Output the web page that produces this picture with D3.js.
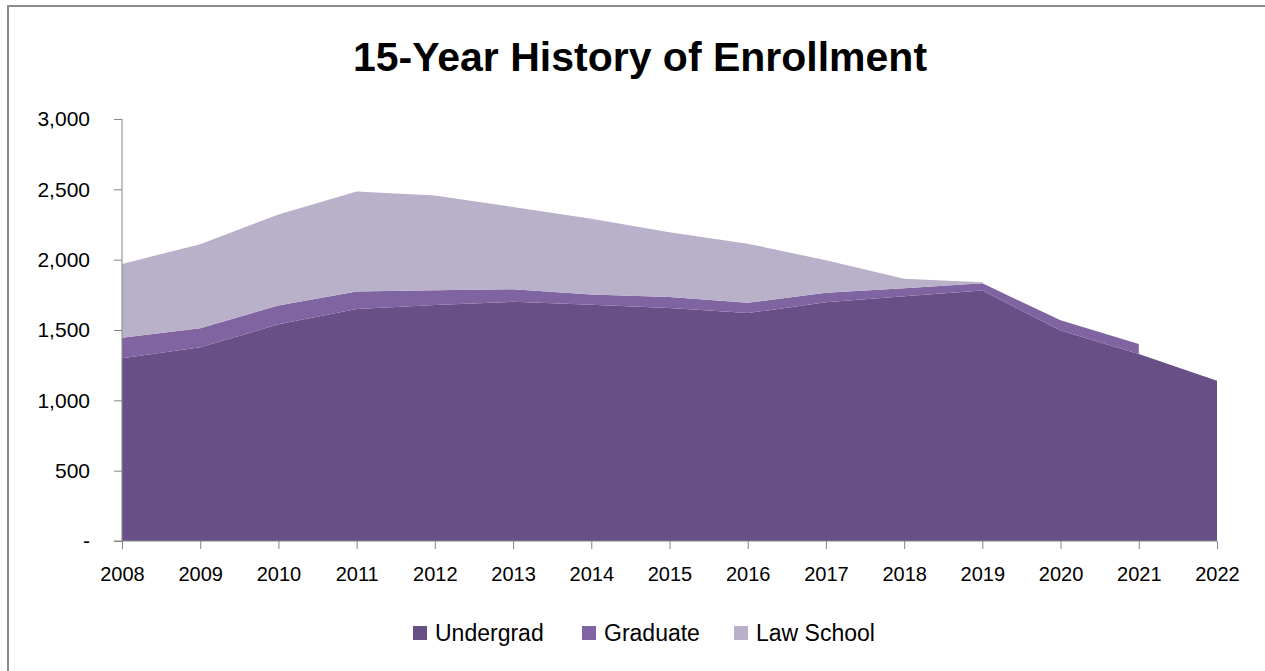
<!DOCTYPE html>
<html>
<head>
<meta charset="utf-8">
<script src="https://cdn.jsdelivr.net/npm/d3@7"></script>
<style>
  body { margin: 0; background: #fff; }
  svg { display: block; }
</style>
</head>
<body>
<div id="my_dataviz"></div>
<script>
var years = [2008, 2009, 2010, 2011, 2012, 2013, 2014, 2015, 2016, 2017, 2018, 2019, 2020, 2021, 2022];
var undergrad = [1300, 1378, 1540, 1650, 1678, 1700, 1680, 1657, 1620, 1697, 1740, 1780, 1496, 1330, 1140];
var graduate = [145, 135, 134, 123, 105, 90, 72, 78, 73, 67, 57, 52, 73, 71, null];
var lawSchool = [525, 597, 647, 711, 673, 585, 538, 460, 421, 232, 67, 8, null, null, null];
var seriesNames = ["Undergrad", "Graduate", "Law School"];
var yTicks = [0, 500, 1000, 1500, 2000, 2500, 3000];

var colors = { "Undergrad": "#685086", "Graduate": "#8064a2", "Law School": "#b9b0ca" };

var W = 1265, H = 671;
var margin = { top: 119, right: 48, bottom: 130, left: 122 },
    width = W - margin.left - margin.right,
    height = H - margin.top - margin.bottom;

var rows = years.map(function (y, i) {
    return { year: y, "Undergrad": undergrad[i], "Graduate": graduate[i], "Law School": lawSchool[i] };
});

var svg = d3.select("#my_dataviz")
    .append("svg")
    .attr("width", W)
    .attr("height", H)
    .style("font-family", "'Liberation Sans', Arial, sans-serif");

// chart frame
svg.append("rect")
    .attr("x", 8).attr("y", 6)
    .attr("width", W + 20).attr("height", H + 20)
    .attr("fill", "none")
    .attr("stroke", "#8c8c8c")
    .attr("stroke-width", 2);

svg.append("text")
    .attr("x", 640)
    .attr("y", 71)
    .attr("text-anchor", "middle")
    .attr("font-size", "41px")
    .attr("font-weight", "bold")
    .attr("fill", "#000")
    .text("15-Year History of Enrollment");

var g = svg.append("g")
    .attr("transform", "translate(" + margin.left + "," + margin.top + ")");

var x = d3.scaleLinear().domain([years[0], years[years.length - 1]]).range([0, width]);
var y = d3.scaleLinear().domain([0, 3000]).range([height, 0]);

var stack = d3.stack()
    .keys(seriesNames)
    .value(function (d, key) { return d[key] == null ? 0 : d[key]; });
var layers = stack(rows);

var area = d3.area()
    .x(function (d) { return x(d.data.year); })
    .y0(function (d) { return y(d[0]); })
    .y1(function (d) { return y(d[1]); });

g.selectAll(".layer")
    .data(layers)
    .enter()
    .append("path")
    .attr("class", "layer")
    .attr("fill", function (d) { return colors[d.key]; })
    .attr("d", function (d) {
        var key = d.key;
        return area.defined(function (p) { return p.data[key] != null; })(d);
    });

// y axis
var yAxis = g.append("g")
    .call(d3.axisLeft(y).tickValues(yTicks).tickSize(8).tickPadding(24)
        .tickFormat(function (v) { return v === 0 ? "-" : d3.format(",")(v); }));
yAxis.select(".domain").attr("stroke", "#868686").attr("d", "M0," + height + "V0");
yAxis.selectAll(".tick line").attr("stroke", "#868686");
yAxis.selectAll(".tick text").attr("font-size", "21px").attr("fill", "#000")
    .attr("font-family", "'Liberation Sans', Arial, sans-serif");

// x axis
var xAxis = g.append("g")
    .attr("transform", "translate(0," + height + ")")
    .call(d3.axisBottom(x).tickValues(years).tickSize(8).tickPadding(18)
        .tickFormat(d3.format("d")));
xAxis.select(".domain").attr("stroke", "#868686").attr("d", "M-8,0H" + width);
xAxis.selectAll(".tick line").attr("stroke", "#868686");
xAxis.selectAll(".tick text").attr("font-size", "20px").attr("fill", "#000")
    .attr("font-family", "'Liberation Sans', Arial, sans-serif");

// legend
var legendX = [413, 582, 734];
var legend = svg.selectAll(".legend")
    .data(seriesNames)
    .enter()
    .append("g")
    .attr("class", "legend")
    .attr("transform", function (d, i) { return "translate(" + legendX[i] + ",626)"; });
legend.append("rect")
    .attr("width", 14).attr("height", 14)
    .attr("fill", function (d) { return colors[d]; });
legend.append("text")
    .attr("x", 22)
    .attr("y", 15)
    .attr("font-size", "23px")
    .attr("fill", "#000")
    .text(function (d) { return d; });
</script>
</body>
</html>
